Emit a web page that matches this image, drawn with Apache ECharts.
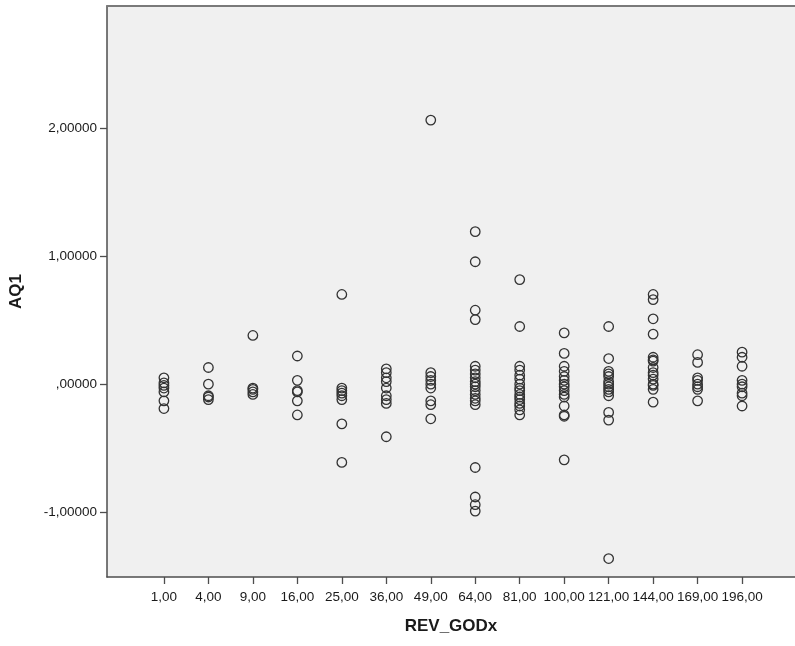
<!DOCTYPE html>
<html>
<head>
<meta charset="utf-8">
<script src="https://cdn.jsdelivr.net/npm/echarts@6/dist/echarts.min.js"></script>
<style>
  html, body { margin: 0; padding: 0; background: #ffffff; }
  #chart { width: 795px; height: 646px; }
</style>
</head>
<body>
<div id="chart"></div>
<script>
// REV_GODx categories (tick labels, comma decimal)
const xLabels = ['1,00', '4,00', '9,00', '16,00', '25,00', '36,00', '49,00',
                 '64,00', '81,00', '100,00', '121,00', '144,00', '169,00', '196,00'];

// AQ1 values observed in each REV_GODx group
const g1   = [0.05, 0.01, -0.01, -0.03, -0.06, -0.13, -0.19];
const g4   = [0.13, 0.00, -0.09, -0.10, -0.12];
const g9   = [0.38, -0.03, -0.04, -0.06, -0.08];
const g16  = [0.22, 0.03, -0.05, -0.06, -0.13, -0.24];
const g25  = [0.70, -0.03, -0.05, -0.07, -0.09, -0.12, -0.31, -0.61];
const g36  = [0.12, 0.09, 0.05, 0.02, -0.03, -0.09, -0.12, -0.15, -0.41];
const g49  = [2.06, 0.09, 0.06, 0.03, 0.00, -0.03, -0.13, -0.16, -0.27];
const g64  = [1.19, 0.955, 0.577, 0.504, 0.14, 0.11, 0.08, 0.05, 0.02, 0.00,
              -0.02, -0.05, -0.08, -0.11, -0.13, -0.16, -0.65, -0.88, -0.94, -0.99];
const g81  = [0.816, 0.45, 0.14, 0.11, 0.07, 0.04, 0.00, -0.03, -0.05, -0.08,
              -0.10, -0.12, -0.15, -0.17, -0.20, -0.24];
const g100 = [0.40, 0.24, 0.14, 0.10, 0.06, 0.03, 0.00, -0.02, -0.05, -0.08,
              -0.10, -0.17, -0.24, -0.25, -0.59];
const g121 = [0.45, 0.20, 0.10, 0.08, 0.06, 0.02, 0.00, -0.02, -0.04, -0.06,
              -0.09, -0.22, -0.28, -1.36];
const g144 = [0.70, 0.66, 0.51, 0.39, 0.21, 0.19, 0.18, 0.13, 0.09, 0.07,
              0.04, 0.00, -0.01, -0.04, -0.14];
const g169 = [0.23, 0.17, 0.05, 0.03, 0.00, -0.02, -0.04, -0.13];
const g196 = [0.25, 0.21, 0.14, 0.03, 0.00, -0.02, -0.07, -0.09, -0.17];

// Y tick values
const yTicks = [-1, 0, 1, 2];

const groups = [g1, g4, g9, g16, g25, g36, g49, g64, g81, g100, g121, g144, g169, g196];
const points = [];
groups.forEach((vals, i) => vals.forEach(v => points.push([i, v])));
const xTicks = xLabels.map((_, i) => i);

function fmtY(v) {
  // SPSS style: 5 decimals, comma separator, no leading zero
  const s = v.toFixed(5).replace('.', ',');
  return s.replace(/^(-?)0,/, '$1,');
}

const FONT = 'Liberation Sans, Arial, sans-serif';
const AXIS_COLOR = '#4d4d4d';
const X_MIN = -1.28, X_MAX = 14.19;

const chart = echarts.init(document.getElementById('chart'), null, { renderer: 'canvas' });
chart.setOption({
  animation: false,
  backgroundColor: '#ffffff',
  grid: {
    left: 107, right: 0, top: 6, bottom: 69,
    show: true,
    backgroundColor: '#f0f0f0',
    borderWidth: 0
  },
  xAxis: [{
    type: 'value',
    min: X_MIN,
    max: X_MAX,
    splitLine: { show: false },
    axisLine: { show: true, onZero: false, lineStyle: { color: AXIS_COLOR, width: 1.5 } },
    axisTick: { show: true, customValues: xTicks, length: 7, lineStyle: { color: AXIS_COLOR, width: 1.3 } },
    axisLabel: {
      customValues: xTicks,
      margin: 13,
      color: '#1a1a1a',
      fontFamily: FONT,
      fontSize: 13.5,
      formatter: v => xLabels[Math.round(v)]
    },
    name: 'REV_GODx',
    nameLocation: 'middle',
    nameGap: 41,
    nameTextStyle: { fontFamily: FONT, fontSize: 17, fontWeight: 'bold', color: '#1a1a1a' }
  }, {
    // top frame line of the plot area
    type: 'value',
    position: 'top',
    min: X_MIN,
    max: X_MAX,
    splitLine: { show: false },
    axisLine: { show: true, onZero: false, lineStyle: { color: '#7a7a7a', width: 2 } },
    axisTick: { show: false },
    axisLabel: { show: false }
  }],
  yAxis: {
    type: 'value',
    min: -1.504,
    max: 2.95,
    splitLine: { show: false },
    axisLine: { show: true, onZero: false, lineStyle: { color: AXIS_COLOR, width: 1.5 } },
    axisTick: { show: true, customValues: yTicks, length: 7, lineStyle: { color: AXIS_COLOR, width: 1.3 } },
    axisLabel: {
      customValues: yTicks,
      margin: 10,
      color: '#1a1a1a',
      fontFamily: FONT,
      fontSize: 13.5,
      formatter: fmtY
    },
    name: 'AQ1',
    nameLocation: 'middle',
    nameRotate: 90,
    nameGap: 82,
    nameTextStyle: { fontFamily: FONT, fontSize: 17, fontWeight: 'bold', color: '#1a1a1a' }
  },
  series: [{
    type: 'scatter',
    data: points,
    symbol: 'circle',
    symbolSize: 9.5,
    itemStyle: { color: 'rgba(0,0,0,0)', borderColor: '#333333', borderWidth: 1.3, opacity: 1 },
    emphasis: { disabled: true }
  }]
});
</script>
</body>
</html>
